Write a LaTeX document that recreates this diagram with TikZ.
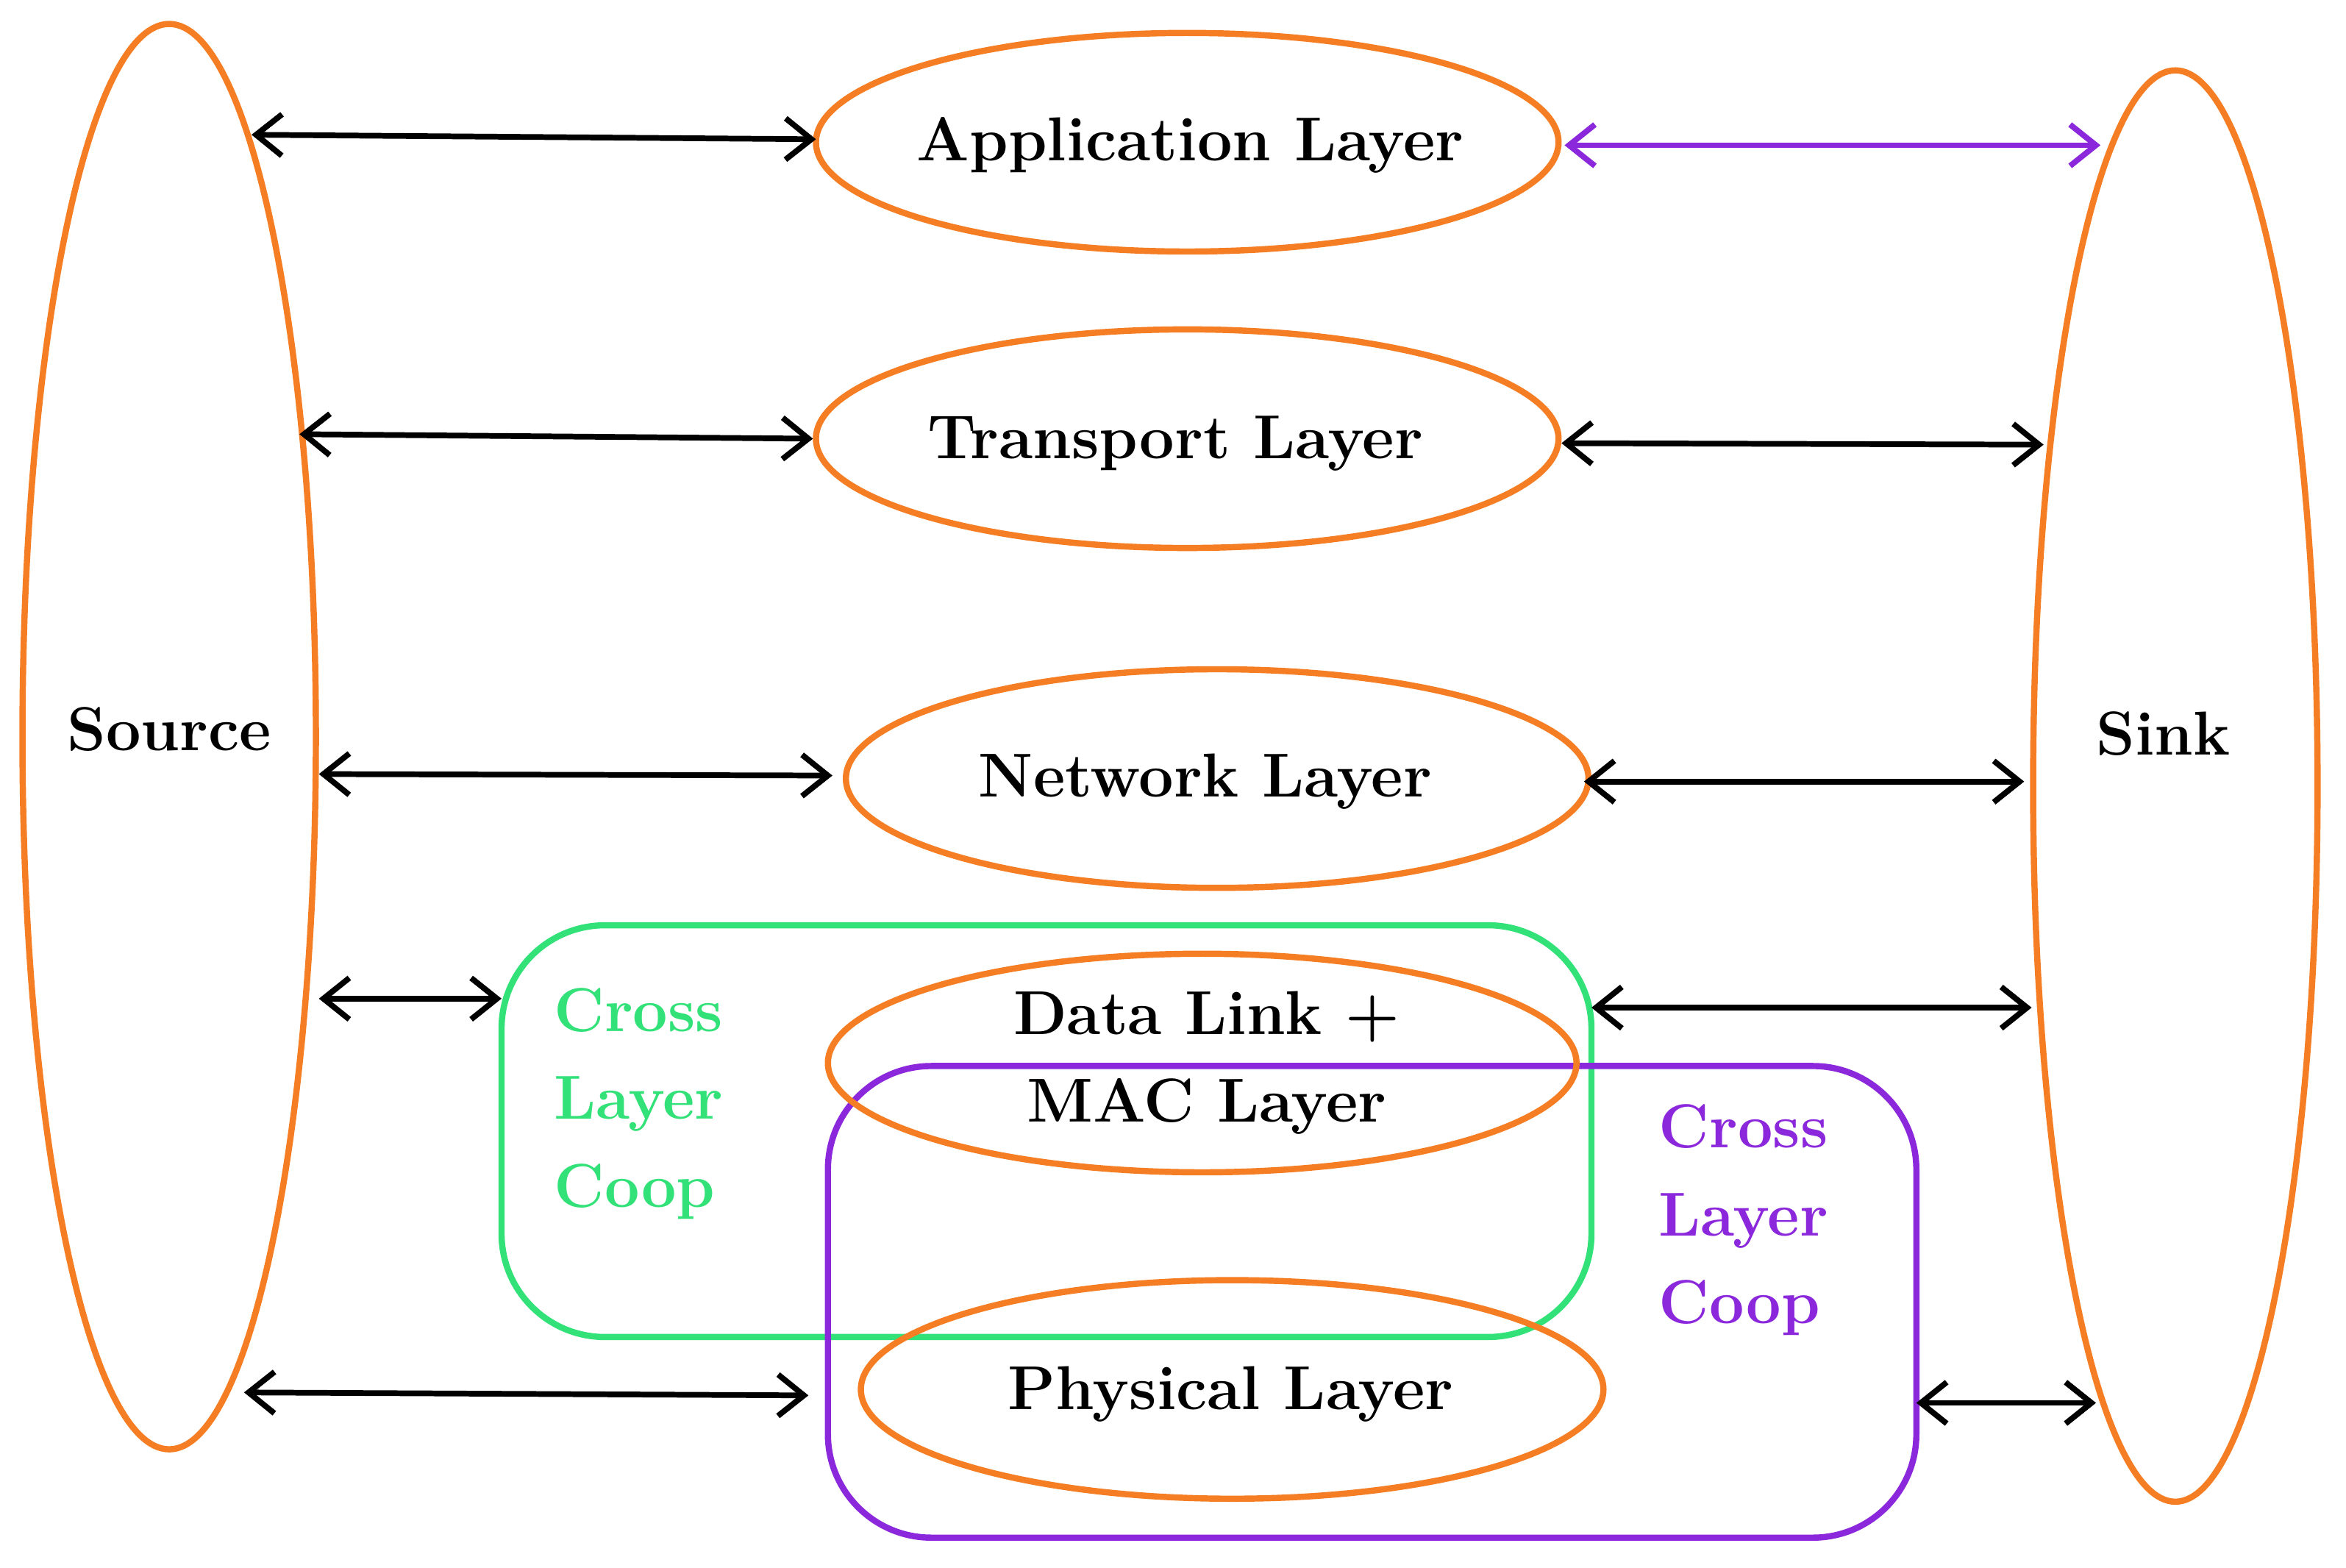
\documentclass[tikz,border=0pt]{standalone}
\usetikzlibrary{arrows.meta}
\begin{document}
\begin{tikzpicture}[x=0.02036cm,y=-0.02036cm,
  txt/.style={font=\fontsize{24}{34}\selectfont\bfseries,align=center},
  arr/.style={{Straight Barb[length=10pt,width=16pt]}-{Straight Barb[length=10pt,width=16pt]},line width=2.2pt},
  ctxt/.style={font=\fontsize{24}{34}\selectfont\bfseries,align=left,anchor=west}]
\definecolor{org}{RGB}{245,125,35}
\definecolor{grn}{RGB}{50,225,120}
\definecolor{prp}{RGB}{140,40,220}
\tikzset{lay/.style={draw=org,line width=2.4pt}}
\useasboundingbox (0,0) rectangle (1567,1047);
\draw[lay] (113,492) ellipse [x radius=98,y radius=476];
\node[txt] (src) at (113,487) {Source};
\draw[lay] (1453,525) ellipse [x radius=95,y radius=478];
\node[txt] (snk) at (1445,490) {Sink};
\draw[lay] (793,95) ellipse [x radius=248,y radius=73];
\node[txt] (app) at (795,97) {Application Layer};
\draw[lay] (793,293) ellipse [x radius=248,y radius=73];
\node[txt] (tr) at (785,296) {Transport Layer};
\draw[lay] (813,520) ellipse [x radius=248,y radius=73];
\node[txt] (nw) at (805,522) {Network Layer};
\draw[grn,line width=2.4pt,rounded corners=40] (335,618) rectangle (1063,893);
\draw[prp,line width=2.4pt,rounded corners=40] (553,712) rectangle (1280,1027);
\draw[lay] (803,710) ellipse [x radius=250,y radius=73];
\node[txt] (dl) at (806,710) {Data Link +\\MAC Layer};
\draw[lay] (823,928) ellipse [x radius=248,y radius=73];
\node[txt] (ph) at (822,931) {Physical Layer};
\node[ctxt,text=grn] (g) at (364,737) {Cross\\Layer\\Coop};
\node[ctxt,text=prp] (p) at (1102,815) {Cross\\Layer\\Coop};
\coordinate (a1) at (168,90); \coordinate (a2) at (545,93);
\coordinate (a3) at (1045,97); \coordinate (a4) at (1403,97);
\coordinate (b1) at (200,290); \coordinate (b2) at (543,293);
\coordinate (b3) at (1043,296); \coordinate (b4) at (1365,297);
\coordinate (c1) at (213,517); \coordinate (c2) at (556,518);
\coordinate (c3) at (1058,522); \coordinate (c4) at (1352,522);
\coordinate (d1) at (213,667); \coordinate (d2) at (335,667);
\coordinate (d3) at (1063,673); \coordinate (d4) at (1357,673);
\coordinate (e1) at (163,930); \coordinate (e2) at (540,932);
\coordinate (e3) at (1280,937); \coordinate (e4) at (1400,937);
\draw[arr] (a1)--(a2); \draw[arr,prp] (a3)--(a4);
\draw[arr] (b1)--(b2); \draw[arr] (b3)--(b4);
\draw[arr] (c1)--(c2); \draw[arr] (c3)--(c4);
\draw[arr] (d1)--(d2); \draw[arr] (d3)--(d4);
\draw[arr] (e1)--(e2); \draw[arr] (e3)--(e4);
\end{tikzpicture}
\end{document}
